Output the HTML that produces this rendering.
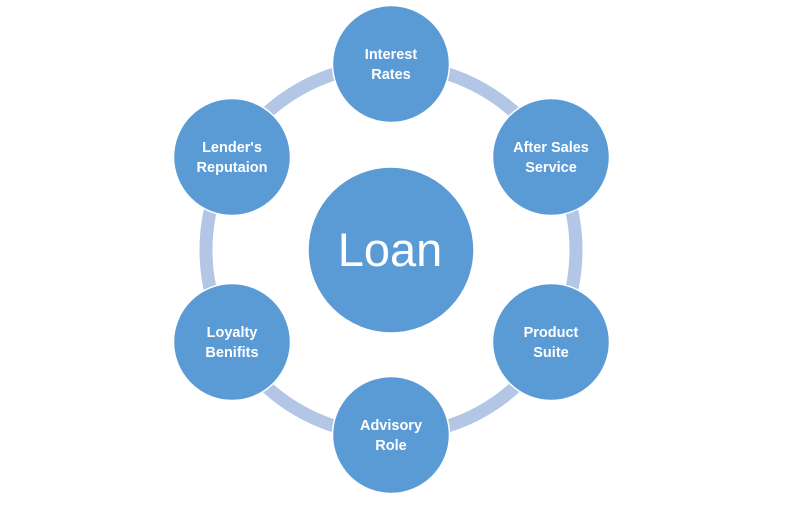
<!DOCTYPE html>
<html><head><style>
body{margin:0;background:#fff;}
svg text{font-family:"Liberation Sans",sans-serif;fill:#fff;font-weight:bold;text-anchor:middle;}
</style></head><body>
<svg width="800" height="500" viewBox="0 0 800 500">
<circle cx="391" cy="250" r="185" fill="none" stroke="#b3c6e6" stroke-width="13"/>
<g fill="#5b9bd5" stroke="#fff" stroke-width="1.5">
<circle cx="391" cy="250" r="83"/>
<circle cx="391" cy="64" r="58.5"/>
<circle cx="551" cy="157" r="58.5"/>
<circle cx="551" cy="342" r="58.5"/>
<circle cx="391" cy="435" r="58.5"/>
<circle cx="232" cy="342" r="58.5"/>
<circle cx="232" cy="157" r="58.5"/>
</g>
<text x="390" y="266" style="font-size:47px;font-weight:normal">Loan</text>
<g style="font-size:14.5px">
<text x="391" y="59">Interest</text><text x="391" y="79">Rates</text>
<text x="551" y="152">After Sales</text><text x="551" y="172">Service</text>
<text x="551" y="337">Product</text><text x="551" y="357">Suite</text>
<text x="391" y="430">Advisory</text><text x="391" y="450">Role</text>
<text x="232" y="337">Loyalty</text><text x="232" y="357">Benifits</text>
<text x="232" y="152">Lender's</text><text x="232" y="172">Reputaion</text>
</g>
</svg>
</body></html>
